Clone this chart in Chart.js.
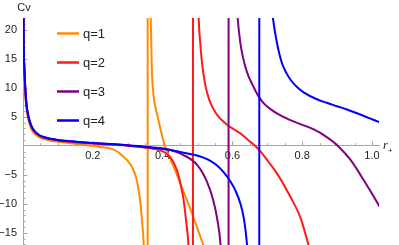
<!DOCTYPE html>
<html>
<head>
<meta charset="utf-8">
<script src="https://cdn.jsdelivr.net/npm/chart.js@4.4.0/dist/chart.umd.min.js"></script>
<style>
  html, body { margin: 0; padding: 0; background: #fff; }
</style>
</head>
<body>
<canvas id="cv" width="399" height="245"></canvas>
<script>
// values (Cv against r+), one pair of arrays per q
const seriesLabels = ['q=1', 'q=2', 'q=3', 'q=4'];
const seriesColors = ['#ff8c00', '#ff1a1a', '#800080', '#0000ff'];

const rQ1 = [0.0012, 0.0017, 0.0037, 0.0066, 0.01, 0.016, 0.023, 0.03, 0.045, 0.06, 0.08, 0.1, 0.13, 0.165,
  0.193, 0.22, 0.25, 0.27, 0.288, 0.30, 0.312, 0.32, 0.327, 0.336, 0.341, 0.346, 0.351, 0.355, 0.3568,
  0.3576, 0.3595, 0.362, 0.366, 0.369, 0.374, 0.384, 0.393, 0.405, 0.422, 0.441, 0.46, 0.484, 0.513, 0.53];
const cvQ1 = [28, 18.5, 12.5, 8.8, 6.3, 4.3, 3.0, 2.3, 1.5, 1.15, 0.85, 0.68, 0.48, 0.25,
  0.0, -0.2, -0.45, -1.0, -1.9, -2.6, -3.6, -4.7, -6.2, -9.6, -13, -17.1, -28, -70, -400,
  400, 95, 42, 22, 13.5, 8.7, 5.5, 3.1, 0.3, -2.3, -5.0, -7.9, -11.6, -16.5, -19.5];

const rQ2 = [0.0012, 0.0017, 0.0037, 0.0066, 0.01, 0.016, 0.023, 0.03, 0.045, 0.06, 0.08, 0.1, 0.13, 0.165,
  0.2, 0.25, 0.3, 0.365, 0.39, 0.41, 0.427, 0.441, 0.452, 0.46, 0.467, 0.474, 0.479, 0.484, 0.4865,
  0.4875, 0.4905, 0.496, 0.503, 0.508, 0.512, 0.517, 0.524, 0.532, 0.54, 0.546, 0.56, 0.585, 0.605,
  0.623, 0.651, 0.670, 0.685, 0.70, 0.728, 0.766, 0.795, 0.818, 0.83];
const cvQ2 = [30, 19.5, 13.5, 9.5, 6.9, 4.8, 3.4, 2.6, 1.8, 1.4, 1.1, 0.9, 0.7, 0.52,
  0.38, 0.2, 0.0, -0.45, -0.75, -1.3, -2.4, -4.2, -6.8, -9.3, -12.8, -17.1, -25, -60, -400,
  400, 100, 42, 22.5, 17.6, 14.8, 12.4, 10, 8.2, 7.0, 6.3, 5.0, 3.6, 2.8,
  2.1, 0.7, -0.3, -1.3, -2.5, -4.8, -8.8, -12.4, -17.1, -19.5];

const rQ3 = [0.0012, 0.0017, 0.0037, 0.0066, 0.01, 0.016, 0.023, 0.03, 0.045, 0.06, 0.08, 0.1, 0.13, 0.165,
  0.2, 0.25, 0.3, 0.365, 0.413, 0.46, 0.499, 0.527, 0.546, 0.557, 0.566, 0.575, 0.584, 0.5885,
  0.5895, 0.5925, 0.6, 0.607, 0.615, 0.623, 0.63, 0.637, 0.646, 0.656, 0.665, 0.675, 0.69, 0.709,
  0.735, 0.766, 0.8, 0.833, 0.865, 0.9, 0.938, 0.976, 1.019, 1.03];
const cvQ3 = [30, 19.5, 13.6, 9.7, 7.0, 4.9, 3.5, 2.7, 1.85, 1.45, 1.15, 0.95, 0.75, 0.58,
  0.42, 0.25, 0.05, -0.3, -0.6, -1.6, -3.3, -6.2, -9.6, -12.8, -17.1, -28, -70, -400,
  400, 120, 45, 30, 22, 17.6, 15.3, 13.6, 12, 10.7, 9.6, 8.5, 7.3, 6.3,
  5.3, 4.4, 3.6, 2.8, 1.7, 0.1, -2.4, -5.9, -10.2, -11.4];

const rQ4 = [0.0012, 0.0017, 0.0037, 0.0066, 0.01, 0.016, 0.023, 0.03, 0.045, 0.06, 0.08, 0.1, 0.13, 0.165,
  0.2, 0.25, 0.3, 0.33, 0.365, 0.42, 0.46, 0.49, 0.515, 0.537, 0.556, 0.574, 0.595, 0.61, 0.623, 0.633,
  0.642, 0.655, 0.668, 0.6765, 0.6775, 0.682, 0.69, 0.70, 0.708, 0.716, 0.728, 0.742, 0.755, 0.766,
  0.785, 0.804, 0.842, 0.87, 0.9, 0.93, 0.957, 0.99, 1.019, 1.03];
const cvQ4 = [30, 20, 14, 10, 7.2, 5.0, 3.6, 2.8, 1.9, 1.5, 1.2, 1.0, 0.8, 0.63,
  0.48, 0.3, 0.1, -0.05, -0.27, -0.7, -1.2, -1.55, -2.0, -2.6, -3.4, -4.5, -6.2, -7.9, -10, -12.6,
  -17.1, -30, -70, -400, 400, 150, 58, 34, 26.5, 22, 17.6, 14.2, 12.5, 11.4,
  10.1, 9.2, 8.0, 7.4, 6.8, 6.2, 5.6, 4.8, 4.1, 3.8];

const xTickValues = [0.2, 0.4, 0.6, 0.8, 1.0];
const yTickValues = [-15, -10, -5, 5, 10, 15, 20];

const rSets = [rQ1, rQ2, rQ3, rQ4];
const cvSets = [cvQ1, cvQ2, cvQ3, cvQ4];

const datasets = seriesLabels.map((label, i) => ({
  label: label,
  data: rSets[i].map((r, k) => ({ x: r, y: cvSets[i][k] })),
  borderColor: seriesColors[i],
  backgroundColor: seriesColors[i],
  borderWidth: 2,
  pointRadius: 0,
  showLine: true,
  fill: false,
  cubicInterpolationMode: 'monotone',
  order: seriesLabels.length - i   // q=4 ends up on top, like the reference
}));

const axisColor = '#a6a6a6';
const labelFont = '11px "Liberation Sans", Arial, sans-serif';

// Mathematica style tick marks: pointing into the plot from the axes
const axisTicks = {
  id: 'axisTicks',
  beforeDatasetsDraw(chart) {
    const { ctx, scales: { x, y } } = chart;
    const x0 = x.getPixelForValue(0);
    const y0 = y.getPixelForValue(0);
    ctx.save();
    ctx.strokeStyle = axisColor;
    ctx.lineWidth = 1;
    ctx.beginPath();
    for (let i = 1; i <= 20; i++) {
      const px = Math.round(x.getPixelForValue(i * 0.05)) + 0.5;
      const len = i % 4 === 0 ? 4.5 : 2.5;
      ctx.moveTo(px, y0);
      ctx.lineTo(px, y0 - len);
    }
    for (let v = -17; v <= 22; v++) {
      if (v === 0) continue;
      const py = Math.round(y.getPixelForValue(v)) + 0.5;
      const len = v % 5 === 0 ? 4.5 : 2.5;
      ctx.moveTo(x0, py);
      ctx.lineTo(x0 + len, py);
    }
    ctx.stroke();
    ctx.restore();
  }
};

// axis names and the legend inside the plot
const annotations = {
  id: 'annotations',
  afterDraw(chart) {
    const { ctx, chartArea, scales: { x, y } } = chart;
    ctx.save();
    ctx.fillStyle = '#222';
    ctx.textBaseline = 'alphabetic';
    ctx.font = labelFont;
    ctx.textAlign = 'center';
    ctx.fillText('Cv', x.getPixelForValue(0) + 1, 11);

    const y0 = y.getPixelForValue(0);
    ctx.textAlign = 'left';
    ctx.font = 'italic 12px "Liberation Serif", "Times New Roman", serif';
    ctx.fillText('r', chartArea.right + 4, y0 + 3);
    ctx.font = '8px "Liberation Sans", Arial, sans-serif';
    ctx.fillText('+', chartArea.right + 9, y0 + 7);

    const lx = chartArea.left + 34;
    ctx.font = '13px "Liberation Sans", Arial, sans-serif';
    ctx.textBaseline = 'middle';
    chart.data.datasets.forEach((ds, i) => {
      const ly = chartArea.top + 15.5 + i * 29;
      ctx.strokeStyle = ds.borderColor;
      ctx.lineWidth = 2.5;
      ctx.beginPath();
      ctx.moveTo(lx, ly);
      ctx.lineTo(lx + 22, ly);
      ctx.stroke();
      ctx.fillStyle = '#222';
      ctx.fillText(ds.label, lx + 26, ly + 0.5);
    });
    ctx.restore();
  }
};

new Chart(document.getElementById('cv'), {
  type: 'scatter',
  data: { datasets: datasets },
  options: {
    responsive: false,
    animation: false,
    layout: { padding: { top: 18, right: 20, left: 0, bottom: 0 } },
    plugins: {
      legend: { display: false },
      tooltip: { enabled: false }
    },
    scales: {
      x: {
        type: 'linear',
        position: { y: 0 },
        min: 0,
        max: 1.02,
        afterFit: scale => {
          scale.height = 0;
          scale.paddingLeft = 0;
          scale.paddingRight = 0;
        },
        afterBuildTicks: scale => { scale.ticks = xTickValues.map(v => ({ value: v })); },
        grid: { display: false, drawTicks: false },
        border: { display: true, color: axisColor, width: 1 },
        ticks: {
          padding: 4,
          color: '#222',
          font: { family: '"Liberation Sans", Arial, sans-serif', size: 11 },
          maxRotation: 0,
          autoSkip: false,
          callback: v => v.toFixed(1)
        }
      },
      y: {
        type: 'linear',
        position: 'left',
        min: -17.1,
        max: 22,
        afterFit: scale => {
          scale.width = 23;
          scale.paddingTop = 0;
          scale.paddingBottom = 0;
        },
        afterBuildTicks: scale => { scale.ticks = yTickValues.map(v => ({ value: v })); },
        grid: { display: false, drawTicks: false },
        border: { display: true, color: axisColor, width: 1 },
        ticks: {
          padding: 6,
          color: '#222',
          font: { family: '"Liberation Sans", Arial, sans-serif', size: 11 },
          autoSkip: false,
          callback: v => (v < 0 ? '\u2212' + Math.abs(v) : String(v))
        }
      }
    }
  },
  plugins: [axisTicks, annotations]
});
</script>
</body>
</html>
